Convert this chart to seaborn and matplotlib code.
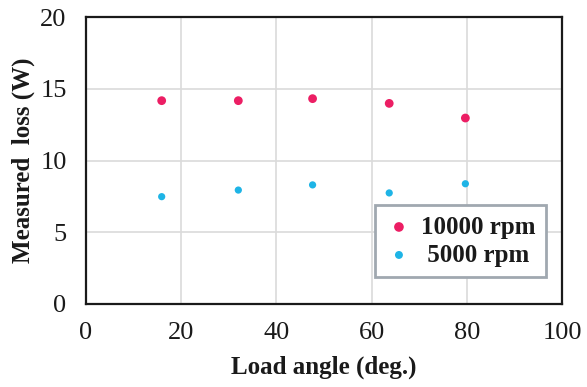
import matplotlib
matplotlib.use("Agg")
import matplotlib.pyplot as plt
import seaborn as sns
import pandas as pd

load_angle = [15.9, 32.0, 47.6, 63.7, 79.7]
loss_10000 = [14.17, 14.17, 14.31, 13.98, 12.96]
loss_5000 = [7.48, 7.94, 8.30, 7.74, 8.38]
series_names = ["10000 rpm", " 5000 rpm"]
series_colors = ["#EC1E64", "#1EB4E6"]

df = pd.DataFrame({
    "angle": load_angle * 2,
    "loss": loss_10000 + loss_5000,
    "series": [series_names[0]] * 5 + [series_names[1]] * 5,
})

sns.set_theme(style="white")
plt.rcParams["font.family"] = ["Liberation Serif", "DejaVu Serif"]

fig = plt.figure(figsize=(5.87, 3.87), dpi=100)
ax = fig.add_axes([86 / 587, 1 - 304 / 387, (562 - 86) / 587, (304 - 17) / 387])

sns.scatterplot(data=df[df.series == series_names[0]], x="angle", y="loss",
                color=series_colors[0], s=40, edgecolor="none", ax=ax,
                label=series_names[0], zorder=3)
sns.scatterplot(data=df[df.series == series_names[1]], x="angle", y="loss",
                color=series_colors[1], s=27, edgecolor="none", ax=ax,
                label=series_names[1], zorder=3)

ax.set_xlim(0, 100)
ax.set_ylim(0, 20)
ax.set_xticks([0, 20, 40, 60, 80, 100])
ax.set_yticks([0, 5, 10, 15, 20])
ax.grid(True, color="#DADADA", linewidth=1.2)
ax.set_axisbelow(True)
for sp in ax.spines.values():
    sp.set_visible(True)
    sp.set_color("#1A1A1A")
    sp.set_linewidth(1.6)

ax.tick_params(axis="both", labelsize=19, length=0, colors="#1A1A1A")
ax.tick_params(axis="x", pad=13)
ax.tick_params(axis="y", pad=14)
ax.set_xlabel("Load angle (deg.)", fontsize=18, fontweight="bold", labelpad=8,
              color="#1A1A1A")
ax.set_ylabel("Measured  loss (W)", fontsize=18, fontweight="bold", labelpad=4,
              color="#1A1A1A")

leg = ax.legend(loc="lower right", bbox_to_anchor=(0.966, 0.094), borderaxespad=0,
                fancybox=False, framealpha=1, edgecolor="#A0A8B0",
                prop={"size": 18, "weight": "bold"},
                handletextpad=0.35, borderpad=0.42, labelspacing=0.2, handlelength=1.05,
                markerscale=1.1)
leg.get_frame().set_linewidth(2)
for t in leg.get_texts():
    t.set_color("#1A1A1A")

fig.savefig("out.png", dpi=100)
